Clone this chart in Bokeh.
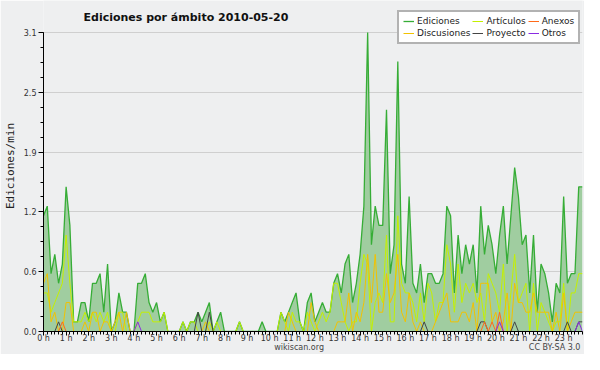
from bokeh.plotting import figure
from bokeh.models import Range1d, FixedTicker, Legend, LegendItem, Label, LinearAxis
from bokeh.embed import file_html
from bokeh.resources import INLINE

# ---------------- data ----------------
title_text = "Ediciones por ámbito  2010-05-20"
y_label = "Ediciones/min"
footer_left = "wikiscan.org"
footer_right = "CC BY-SA 3.0"

hour_ticks = list(range(24))
hour_labels = [f"{h} h" for h in hour_ticks]
y_tick_values = [0.0, 0.62, 1.24, 1.86, 2.48, 3.1]
y_tick_labels = ["0.0", "0.6", "1.2", "1.9", "2.5", "3.1"]

# 10-minute bins, edits per minute
ediciones = [
    1.2, 1.3, 0.6, 0.8, 0.5, 0.7, 1.5, 1.1, 0.1, 0.1, 0.3, 0.3,
    0.1, 0.5, 0.5, 0.6, 0.2, 0.7, 0.0, 0.1, 0.4, 0.2, 0.2, 0.0,
    0.0, 0.5, 0.5, 0.6, 0.3, 0.2, 0.3, 0.1, 0.2, 0.0, 0.0, 0.0,
    0.0, 0.1, 0.0, 0.1, 0.1, 0.2, 0.1, 0.2, 0.3, 0.0, 0.1, 0.2,
    0.0, 0.0, 0.0, 0.0, 0.1, 0.0, 0.0, 0.0, 0.0, 0.0, 0.1, 0.0,
    0.0, 0.0, 0.0, 0.2, 0.1, 0.2, 0.3, 0.4, 0.1, 0.0, 0.3, 0.4,
    0.1, 0.2, 0.3, 0.2, 0.2, 0.5, 0.6, 0.4, 0.7, 0.8, 0.3, 0.5,
    0.8, 1.3, 3.1, 0.9, 1.3, 1.1, 1.1, 2.3, 0.6, 0.9, 2.8, 0.7,
    0.5, 1.4, 0.5, 0.4, 0.7, 0.3, 0.6, 0.6, 0.5, 0.5, 0.6, 1.3,
    1.2, 0.4, 1.0, 0.6, 0.9, 0.7, 0.9, 0.4, 1.3, 0.8, 1.1, 0.9,
    0.6, 1.0, 1.3, 0.7, 1.2, 1.7, 1.4, 0.9, 1.0, 0.4, 1.0, 0.2,
    0.7, 0.6, 0.4, 0.1, 0.5, 0.4, 1.4, 0.5, 0.6, 0.6, 1.5, 1.5,
]
articulos = [
    0.4, 0.4, 0.2, 0.3, 0.4, 0.5, 1.0, 0.5, 0.1, 0.1, 0.1, 0.2,
    0.1, 0.2, 0.1, 0.2, 0.1, 0.2, 0.0, 0.0, 0.2, 0.2, 0.0, 0.0,
    0.0, 0.1, 0.2, 0.2, 0.2, 0.1, 0.1, 0.1, 0.2, 0.0, 0.0, 0.0,
    0.0, 0.1, 0.0, 0.1, 0.1, 0.0, 0.0, 0.0, 0.1, 0.0, 0.1, 0.0,
    0.0, 0.0, 0.0, 0.0, 0.1, 0.0, 0.0, 0.0, 0.0, 0.0, 0.0, 0.0,
    0.0, 0.0, 0.0, 0.2, 0.1, 0.0, 0.2, 0.1, 0.1, 0.0, 0.2, 0.1,
    0.0, 0.1, 0.2, 0.1, 0.2, 0.5, 0.5, 0.3, 0.1, 0.0, 0.1, 0.1,
    0.5, 0.8, 0.7, 0.0, 0.3, 0.4, 0.3, 1.0, 0.1, 0.1, 1.2, 0.5,
    0.4, 0.4, 0.3, 0.1, 0.4, 0.1, 0.5, 0.4, 0.1, 0.3, 0.3, 0.9,
    0.7, 0.2, 0.7, 0.3, 0.5, 0.4, 0.5, 0.3, 0.4, 0.1, 0.6, 0.5,
    0.4, 0.2, 0.7, 0.0, 0.4, 0.8, 0.3, 0.4, 0.5, 0.0, 0.5, 0.0,
    0.3, 0.2, 0.1, 0.0, 0.1, 0.1, 0.5, 0.0, 0.4, 0.4, 0.6, 0.6,
]
discusiones = [
    0.5, 0.6, 0.1, 0.2, 0.0, 0.0, 0.3, 0.3, 0.0, 0.0, 0.0, 0.1,
    0.0, 0.2, 0.2, 0.0, 0.1, 0.1, 0.0, 0.1, 0.2, 0.0, 0.2, 0.0,
    0.0, 0.0, 0.0, 0.0, 0.0, 0.0, 0.0, 0.0, 0.0, 0.0, 0.0, 0.0,
    0.0, 0.0, 0.0, 0.0, 0.0, 0.0, 0.0, 0.1, 0.0, 0.0, 0.0, 0.0,
    0.0, 0.0, 0.0, 0.0, 0.0, 0.0, 0.0, 0.0, 0.0, 0.0, 0.0, 0.0,
    0.0, 0.0, 0.0, 0.0, 0.0, 0.2, 0.1, 0.0, 0.0, 0.0, 0.0, 0.3,
    0.1, 0.0, 0.0, 0.0, 0.0, 0.0, 0.1, 0.1, 0.1, 0.4, 0.0, 0.2,
    0.1, 0.3, 0.8, 0.3, 0.8, 0.2, 0.2, 0.6, 0.3, 0.4, 0.8, 0.2,
    0.1, 0.4, 0.1, 0.0, 0.1, 0.0, 0.0, 0.0, 0.1, 0.2, 0.3, 0.4,
    0.1, 0.1, 0.1, 0.2, 0.2, 0.1, 0.3, 0.0, 0.5, 0.5, 0.5, 0.1,
    0.2, 0.0, 0.1, 0.4, 0.0, 0.5, 0.3, 0.3, 0.2, 0.2, 0.4, 0.2,
    0.2, 0.2, 0.2, 0.0, 0.2, 0.0, 0.4, 0.0, 0.1, 0.2, 0.2, 0.2,
]
# sparse series: bin index -> edits/min
proyecto_bins = {4: 0.1, 41: 0.2, 44: 0.2, 101: 0.1, 116: 0.1, 117: 0.1,
                 125: 0.1, 139: 0.1, 142: 0.1, 143: 0.1}
anexos_bins = {5: 0.1, 117: 0.1, 119: 0.1, 121: 0.2}
otros_bins = {25: 0.1, 121: 0.1, 142: 0.1}

N = len(ediciones)
hours = [i / 6 for i in range(N)]
proyecto = [proyecto_bins.get(i, 0.0) for i in range(N)]
anexos = [anexos_bins.get(i, 0.0) for i in range(N)]
otros = [otros_bins.get(i, 0.0) for i in range(N)]

# ---------------- layout constants (pixels) ----------------
FRAME_H = 330          # frame height (figure height minus bottom panels)
TOP_PAD = 32           # pixels between frame top and the y=3.1 line
y_top = y_tick_values[-1]
y_end = y_top * FRAME_H / (FRAME_H - TOP_PAD)

# ---------------- figure ----------------
BG = "#eeeff0"
p = figure(width=584, height=354, output_backend="svg", toolbar_location=None,
           x_range=Range1d(0, hours[-1]), y_range=Range1d(0, y_end),
           min_border_left=38, min_border_right=2, min_border_top=0, min_border_bottom=0)
p.background_fill_color = BG
p.border_fill_color = BG
p.outline_line_color = None

p.varea(x=hours, y1=0, y2=ediciones, fill_color="#a0cda0", fill_alpha=1.0)
l_ed = p.line(hours, ediciones, line_color="#36ad36", line_width=1.3)
l_art = p.line(hours, articulos, line_color="#c4f000", line_width=1.0)
l_dis = p.line(hours, discusiones, line_color="#f2c200", line_width=1.0)
l_pro = p.line(hours, proyecto, line_color="#444444", line_width=1.0)
l_anx = p.line(hours, anexos, line_color="#ff6a1a", line_width=1.0)
l_otr = p.line(hours, otros, line_color="#8a2be2", line_width=1.0)

# grid
p.xgrid.visible = False
p.ygrid.grid_line_color = "#cfcfcf"
p.ygrid.grid_line_width = 1

# y axis
minor_y = [k * y_tick_values[1] / 4 for k in range(21)]
p.yaxis.ticker = FixedTicker(ticks=y_tick_values, minor_ticks=minor_y)
p.yaxis.bounds = (0, y_top)
p.yaxis.major_label_overrides = dict(zip(y_tick_values, y_tick_labels))
p.yaxis.major_tick_out = 5
p.yaxis.major_tick_in = 0
p.yaxis.minor_tick_out = 3
p.yaxis.minor_tick_in = 0
p.yaxis.major_label_standoff = 2
p.yaxis.major_label_text_font = "DejaVu Sans"
p.yaxis.major_label_text_font_size = "8px"
p.yaxis.major_label_text_color = "#333333"
p.yaxis.axis_label = y_label
p.yaxis.axis_label_text_font = "DejaVu Sans Mono"
p.yaxis.axis_label_text_font_size = "11px"
p.yaxis.axis_label_text_font_style = "normal"
p.yaxis.axis_label_text_color = "#222222"
p.yaxis.axis_label_standoff = 4
p.yaxis.axis_line_color = "black"

# x axis (hours)
p.xaxis.axis_label = None
p.xaxis.ticker = FixedTicker(ticks=hour_ticks, minor_ticks=hours)
p.xaxis.major_label_overrides = dict(zip(hour_ticks, hour_labels))
p.xaxis.major_tick_out = 4
p.xaxis.major_tick_in = 0
p.xaxis.minor_tick_out = 3
p.xaxis.minor_tick_in = 0
p.xaxis.major_label_standoff = -2
p.xaxis.major_label_text_font = "DejaVu Sans"
p.xaxis.major_label_text_font_size = "8px"
p.xaxis.major_label_text_color = "#333333"
p.xaxis.axis_line_color = "black"

# footer row drawn as a bare axis below the hour axis
footer_pos = [11.3, 22.6]
footer_axis = LinearAxis(ticker=FixedTicker(ticks=footer_pos, minor_ticks=[]),
                         major_label_overrides=dict(zip(footer_pos, [footer_left, footer_right])),
                         axis_label=None,
                         axis_line_color=None, major_tick_line_color=None,
                         minor_tick_line_color=None, major_tick_out=0, major_tick_in=0,
                         major_label_standoff=-3, major_label_text_font="DejaVu Sans",
                         major_label_text_font_size="8px", major_label_text_color="#444444")
p.add_layout(footer_axis, "below")

# title inside the (extended) frame
p.add_layout(Label(x=40, y=FRAME_H - 16, x_units="screen", y_units="screen", text=title_text,
                   text_font="DejaVu Sans", text_font_size="11px", text_font_style="bold",
                   text_baseline="middle", text_color="#111111"))

legend = Legend(items=[
    LegendItem(label="Ediciones", renderers=[l_ed]),
    LegendItem(label="Artículos", renderers=[l_art]),
    LegendItem(label="Anexos", renderers=[l_anx]),
    LegendItem(label="Discusiones", renderers=[l_dis]),
    LegendItem(label="Proyecto", renderers=[l_pro]),
    LegendItem(label="Otros", renderers=[l_otr]),
], location=(354, FRAME_H - 43), orientation="horizontal", ncols=3)
legend.label_text_font = "DejaVu Sans"
legend.label_text_font_size = "9px"
legend.label_text_color = "#222222"
legend.label_height = 10
legend.glyph_height = 10
legend.glyph_width = 11
legend.label_standoff = 3
legend.spacing = 2
legend.padding = 4
legend.margin = 0
legend.border_line_color = "#666666"
legend.border_line_width = 2
legend.background_fill_color = "white"
legend.background_fill_alpha = 1.0
p.add_layout(legend)

open("out.html", "w").write(file_html(p, INLINE))
